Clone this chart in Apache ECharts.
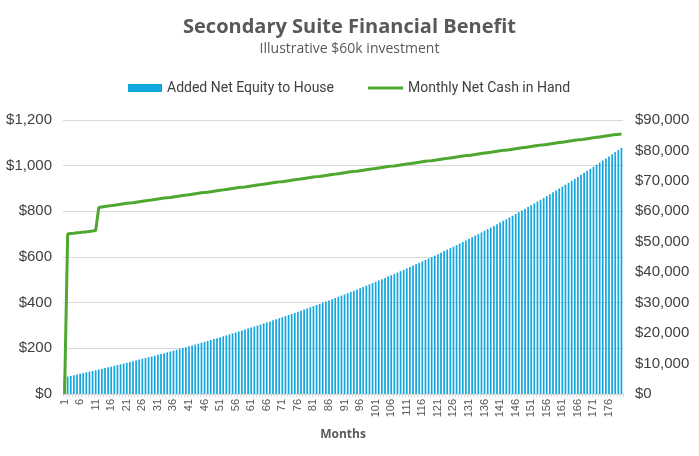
<!DOCTYPE html>
<html>
<head>
<meta charset="utf-8">
<script src="https://cdn.jsdelivr.net/npm/echarts@6/dist/echarts.min.js"></script>
<style>
  html, body { margin: 0; padding: 0; background: #fff; }
  #chart { width: 699px; height: 456px; }
</style>
</head>
<body>
<div id="chart"></div>
<script>
// month labels on the x axis
const months = [
  '1','2','3','4','5','6','7','8','9','10','11','12','13','14','15','16','17','18','19','20',
  '21','22','23','24','25','26','27','28','29','30','31','32','33','34','35','36','37','38','39','40',
  '41','42','43','44','45','46','47','48','49','50','51','52','53','54','55','56','57','58','59','60',
  '61','62','63','64','65','66','67','68','69','70','71','72','73','74','75','76','77','78','79','80',
  '81','82','83','84','85','86','87','88','89','90','91','92','93','94','95','96','97','98','99','100',
  '101','102','103','104','105','106','107','108','109','110','111','112','113','114','115','116','117','118','119','120',
  '121','122','123','124','125','126','127','128','129','130','131','132','133','134','135','136','137','138','139','140',
  '141','142','143','144','145','146','147','148','149','150','151','152','153','154','155','156','157','158','159','160',
  '161','162','163','164','165','166','167','168','169','170','171','172','173','174','175','176','177','178','179','180'
]

// Added Net Equity to House (right axis, $)
const equity = [
  5500, 5726, 5952, 6178, 6405, 6631, 6865, 7098, 7332, 7565,
  7799, 8040, 8282, 8523, 8765, 9006, 9255, 9504, 9754, 10003,
  10252, 10510, 10767, 11025, 11282, 11540, 11806, 12072, 12338, 12604,
  12870, 13145, 13420, 13695, 13970, 14245, 14529, 14813, 15096, 15380,
  15664, 15957, 16251, 16544, 16838, 17131, 17434, 17737, 18040, 18343,
  18646, 18959, 19272, 19585, 19898, 20211, 20534, 20858, 21181, 21505,
  21828, 22162, 22496, 22830, 23164, 23498, 23843, 24188, 24533, 24878,
  25223, 25579, 25936, 26292, 26649, 27005, 27373, 27742, 28110, 28479,
  28847, 29227, 29608, 29988, 30369, 30749, 31142, 31535, 31927, 32320,
  32713, 33119, 33525, 33931, 34337, 34743, 35162, 35582, 36001, 36421,
  36840, 37273, 37706, 38140, 38573, 39006, 39454, 39901, 40349, 40796,
  41244, 41706, 42168, 42631, 43093, 43555, 44033, 44510, 44988, 45465,
  45943, 46436, 46930, 47423, 47917, 48410, 48920, 49429, 49939, 50448,
  50958, 51484, 52011, 52537, 53064, 53590, 54134, 54678, 55222, 55766,
  56310, 56872, 57434, 57995, 58557, 59119, 59699, 60280, 60860, 61441,
  62021, 62621, 63220, 63820, 64419, 65019, 65638, 66258, 66877, 67497,
  68116, 68756, 69396, 70035, 70675, 71315, 71976, 72637, 73298, 73959,
  74620, 75303, 75986, 76668, 77351, 78034, 78737, 79440, 80142, 80845
]

// Monthly Net Cash in Hand (left axis, $)
const cash = [
  0, 701, 703, 704, 706, 707, 709, 710, 712, 714, 716,
  817, 819, 821, 823, 825, 827, 829, 831, 833, 835, 837, 838,
  840, 842, 844, 846, 848, 850, 852, 854, 856, 858, 860, 861,
  863, 865, 867, 869, 871, 873, 875, 877, 879, 881, 883, 884,
  886, 888, 890, 892, 894, 896, 898, 900, 902, 904, 906, 907,
  909, 911, 913, 915, 917, 919, 921, 923, 925, 927, 929, 930,
  932, 934, 936, 938, 940, 942, 944, 946, 948, 950, 952, 953,
  955, 957, 959, 961, 963, 965, 967, 969, 971, 973, 975, 976,
  978, 980, 982, 984, 986, 988, 990, 992, 994, 996, 998, 999,
  1001, 1003, 1005, 1007, 1009, 1011, 1013, 1015, 1017, 1019, 1021, 1022,
  1024, 1026, 1028, 1030, 1032, 1034, 1036, 1038, 1040, 1042, 1044, 1045,
  1047, 1049, 1051, 1053, 1055, 1057, 1059, 1061, 1063, 1065, 1067, 1068,
  1070, 1072, 1074, 1076, 1078, 1080, 1082, 1084, 1086, 1088, 1090, 1091,
  1093, 1095, 1097, 1099, 1101, 1103, 1105, 1107, 1109, 1111, 1113, 1114,
  1116, 1118, 1120, 1122, 1124, 1126, 1128, 1130, 1132, 1134, 1136, 1137,
  1139
]

const textGrey = '#595959'
const money = v => '$' + v.toLocaleString('en-US')
const legendText = { fontFamily: 'Roboto', fontSize: 14, color: '#404040' }

const chart = echarts.init(document.getElementById('chart'), null, { renderer: 'canvas' })

chart.setOption({
  backgroundColor: '#fff',
  animation: false,
  title: {
    text: 'Secondary Suite Financial Benefit',
    subtext: 'Illustrative $60k investment',
    left: 'center',
    top: 12,
    itemGap: 5,
    textStyle: { fontFamily: 'Open Sans', fontSize: 20, fontWeight: 'bold', color: textGrey },
    subtextStyle: { fontFamily: 'Open Sans', fontSize: 14, color: textGrey }
  },
  // two legends so the bar gets a block and the line a thin stroke
  legend: [
    {
      left: 128,
      top: 81,
      padding: 0,
      itemWidth: 34,
      itemHeight: 8,
      textStyle: legendText,
      data: [{ name: 'Added Net Equity to House', icon: 'rect' }]
    },
    {
      left: 368,
      top: 81,
      padding: 0,
      itemWidth: 35,
      itemHeight: 3,
      textStyle: legendText,
      data: [{ name: 'Monthly Net Cash in Hand', icon: 'rect' }]
    }
  ],
  grid: { left: 63, right: 76, top: 120, bottom: 62, containLabel: false },
  xAxis: {
    type: 'category',
    data: months,
    name: 'Months',
    nameLocation: 'middle',
    nameGap: 35,
    nameTextStyle: { fontFamily: 'Open Sans', fontSize: 12, fontWeight: 'bold', color: textGrey },
    axisLine: { lineStyle: { color: '#d9d9d9' } },
    axisTick: { show: true, interval: 0, length: 3, lineStyle: { color: '#d9d9d9' } },
    axisLabel: { interval: 4, rotate: 90, fontFamily: 'Liberation Sans', fontSize: 11, color: textGrey, margin: 5 }
  },
  yAxis: [
    {
      type: 'value',
      min: 0, max: 1200, interval: 200,
      axisLine: { show: false },
      axisTick: { show: false },
      splitLine: { lineStyle: { color: '#d9d9d9' } },
      axisLabel: { formatter: money, fontFamily: 'Liberation Sans', fontSize: 15, color: '#404040', margin: 11 }
    },
    {
      type: 'value',
      min: 0, max: 90000, interval: 10000,
      axisLine: { show: false },
      axisTick: { show: false },
      splitLine: { show: false },
      axisLabel: { formatter: money, fontFamily: 'Liberation Sans', fontSize: 15, color: '#404040', margin: 12 }
    }
  ],
  series: [
    {
      name: 'Added Net Equity to House',
      type: 'bar',
      yAxisIndex: 1,
      data: equity,
      barCategoryGap: '45%',
      itemStyle: { color: '#12A6DE' }
    },
    {
      name: 'Monthly Net Cash in Hand',
      type: 'line',
      yAxisIndex: 0,
      data: cash,
      symbol: 'none',
      lineStyle: { color: '#4EA72E', width: 3 },
      itemStyle: { color: '#4EA72E' }
    }
  ]
})
</script>
</body>
</html>
